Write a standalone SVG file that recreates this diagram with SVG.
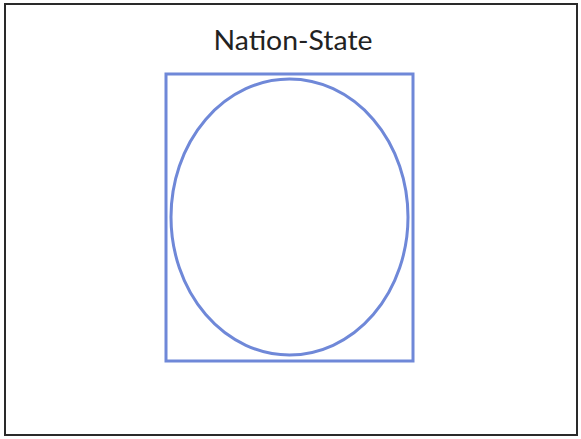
<svg xmlns="http://www.w3.org/2000/svg" width="581" height="439" viewBox="0 0 581 439">
<style>
.frame{fill:#fff;stroke:#2a2a2a;stroke-width:2}
.shape{fill:none;stroke:#6f88d8;stroke-width:3}
.title{font-family:Lato,"Open Sans",sans-serif;font-size:27px;fill:#222;text-anchor:middle}
</style>
<rect x="0" y="0" width="581" height="439" fill="#fff"/>
<g id="frame"><rect class="frame" x="5" y="4" width="572" height="431"/></g>
<g id="title"><text class="title" x="293" y="50" textLength="159" lengthAdjust="spacingAndGlyphs">Nation-State</text></g>
<g id="state"><rect class="shape" x="166" y="74" width="247" height="287"/></g>
<g id="nation"><ellipse class="shape" cx="289.5" cy="217" rx="118.5" ry="138"/></g>
<g id="connectors"/>
</svg>
